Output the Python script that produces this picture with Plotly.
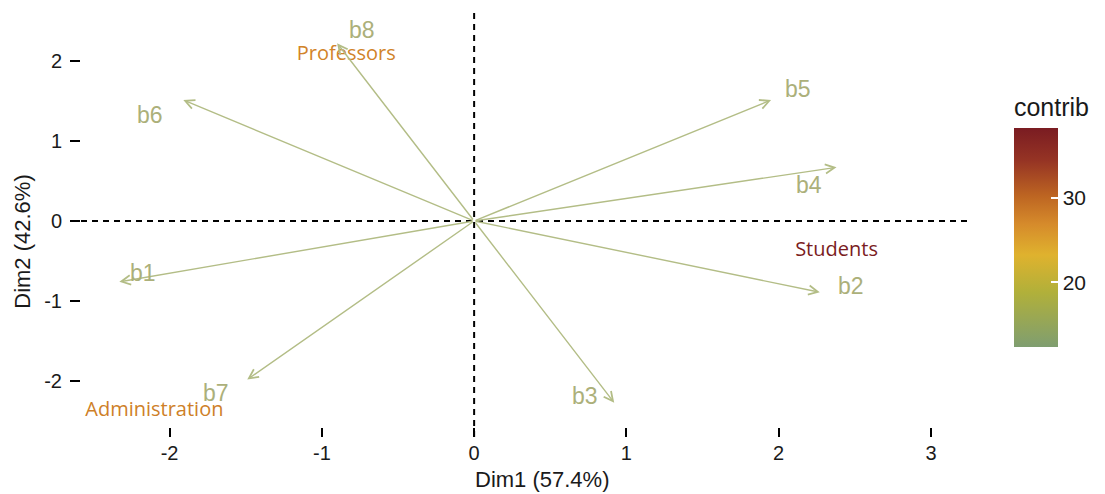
import plotly.graph_objects as go
from plotly.colors import sample_colorscale

# Variable loadings (Dim1, Dim2) and their contributions
var_names = ["b1", "b2", "b3", "b4", "b5", "b6", "b7", "b8"]
var_dim1 = [-2.33, 2.27, 0.92, 2.38, 1.95, -1.91, -1.49, -0.90]
var_dim2 = [-0.76, -0.89, -2.27, 0.67, 1.51, 1.51, -1.98, 2.22]
var_contrib = [12.6, 12.5, 12.4, 12.6, 12.5, 12.5, 12.4, 12.5]

# Individuals (groups) coordinates and contributions
ind_names = ["Professors", "Students", "Administration"]
ind_dim1 = [-0.84, 2.38, -2.10]
ind_dim2 = [2.07, -0.37, -2.37]
ind_contrib = [27.6, 38.3, 28.0]

x_ticks = [-2, -1, 0, 1, 2, 3]
y_ticks = [-2, -1, 0, 1, 2]

# label offsets (pixels) for the variable names relative to arrow tips
label_shift = {
    "b1": (24, 9), "b2": (31, 6), "b3": (-29, 7), "b4": (-28, -18),
    "b5": (27, 11), "b6": (-33, -15), "b7": (-31, -13), "b8": (25, 13),
}

cmin = min(var_contrib + ind_contrib)
cmax = max(var_contrib + ind_contrib)
scale = [
    [0.0, "#7f9e70"], [0.25, "#b1b03a"], [0.42, "#dfb22e"],
    [0.56, "#d68b2b"], [0.69, "#bd6522"], [0.85, "#963424"], [1.0, "#7a1c22"],
]

ARROW_COLOR = "#b3bd86"
LABEL_COLOR = "#acb07a"
FONT = "Liberation Sans, Arial"
TICK_FONT = dict(family=FONT, size=20, color="#1a1a1a")

fig = go.Figure()

ind_colors = sample_colorscale(scale, [(v - cmin) / (cmax - cmin) for v in ind_contrib])
fig.add_trace(go.Scatter(
    x=ind_dim1, y=ind_dim2, mode="markers+text", text=ind_names,
    textposition="middle center",
    textfont=dict(family="Open Sans", size=20, color=ind_colors),
    marker=dict(size=0.1, color=ind_contrib, colorscale=scale, cmin=cmin, cmax=cmax,
                showscale=True,
                colorbar=dict(
                    title=dict(text="contrib", side="top",
                               font=dict(family=FONT, size=25, color="#1a1a1a")),
                    thickness=44, thicknessmode="pixels",
                    len=252, lenmode="pixels",
                    x=1.0476, xanchor="left", y=0.5094, yanchor="middle",
                    xpad=0, ypad=0, outlinewidth=0,
                    tickvals=[20, 30], ticks="inside", ticklen=7, tickwidth=2,
                    tickcolor="white",
                    tickfont=dict(family=FONT, size=21, color="#1a1a1a"),
                )),
    hoverinfo="skip", showlegend=False,
))

# dashed reference lines through the origin
fig.add_hline(y=0, line=dict(color="black", width=2, dash="6px,5px"))
fig.add_vline(x=0, line=dict(color="black", width=2, dash="6px,5px"))

# variable arrows and their names
for name, x, y in zip(var_names, var_dim1, var_dim2):
    fig.add_annotation(x=x, y=y, ax=0, ay=0, xref="x", yref="y", axref="x", ayref="y",
                       text="", showarrow=True, arrowhead=5, arrowsize=1.3,
                       arrowwidth=1.4, arrowcolor=ARROW_COLOR, standoff=0)
    dx, dy = label_shift[name]
    fig.add_annotation(x=x, y=y, xref="x", yref="y", text=name, showarrow=False,
                       xshift=dx, yshift=dy,
                       font=dict(family=FONT, size=23, color=LABEL_COLOR))

# white tick marks on the left edge of the colour bar
bar_bottom, bar_top = (437 - 346) / 425, (437 - 128) / 425
for v in [20, 30]:
    yy = bar_bottom + (v - cmin) / (cmax - cmin) * (bar_top - bar_bottom)
    fig.add_shape(type="line", xref="paper", yref="paper",
                  x0=1.0476, x1=1.0476 + 7 / 903, y0=yy, y1=yy,
                  line=dict(color="white", width=2))

# axis titles
fig.add_annotation(x=0.5235, y=-0.101, xref="paper", yref="paper", text="Dim1 (57.4%)",
                   showarrow=False, yanchor="middle",
                   font=dict(family=FONT, size=22, color="#1a1a1a"))
fig.add_annotation(x=-0.053, y=0.46, xref="paper", yref="paper", text="Dim2 (42.6%)",
                   showarrow=False, textangle=-90, xanchor="center",
                   font=dict(family=FONT, size=22, color="#1a1a1a"))

fig.update_xaxes(range=[-2.654, 3.263], tickvals=x_ticks,
                 ticktext=[str(v) for v in x_ticks], ticks="inside", ticklen=9,
                 tickwidth=2, tickcolor="black", showgrid=False, zeroline=False,
                 showline=False, tickfont=TICK_FONT, ticklabelstandoff=2)
fig.update_yaxes(range=[-2.697, 2.609], tickvals=y_ticks,
                 ticktext=[str(v) for v in y_ticks], ticks="inside", ticklen=10,
                 tickwidth=2, tickcolor="black", showgrid=False, zeroline=False,
                 showline=False, tickfont=TICK_FONT, ticklabelstandoff=7)

fig.update_layout(
    width=1105, height=494,
    margin=dict(l=70, r=132, t=12, b=57),
    plot_bgcolor="white", paper_bgcolor="white",
)

fig.write_html("out.html")
